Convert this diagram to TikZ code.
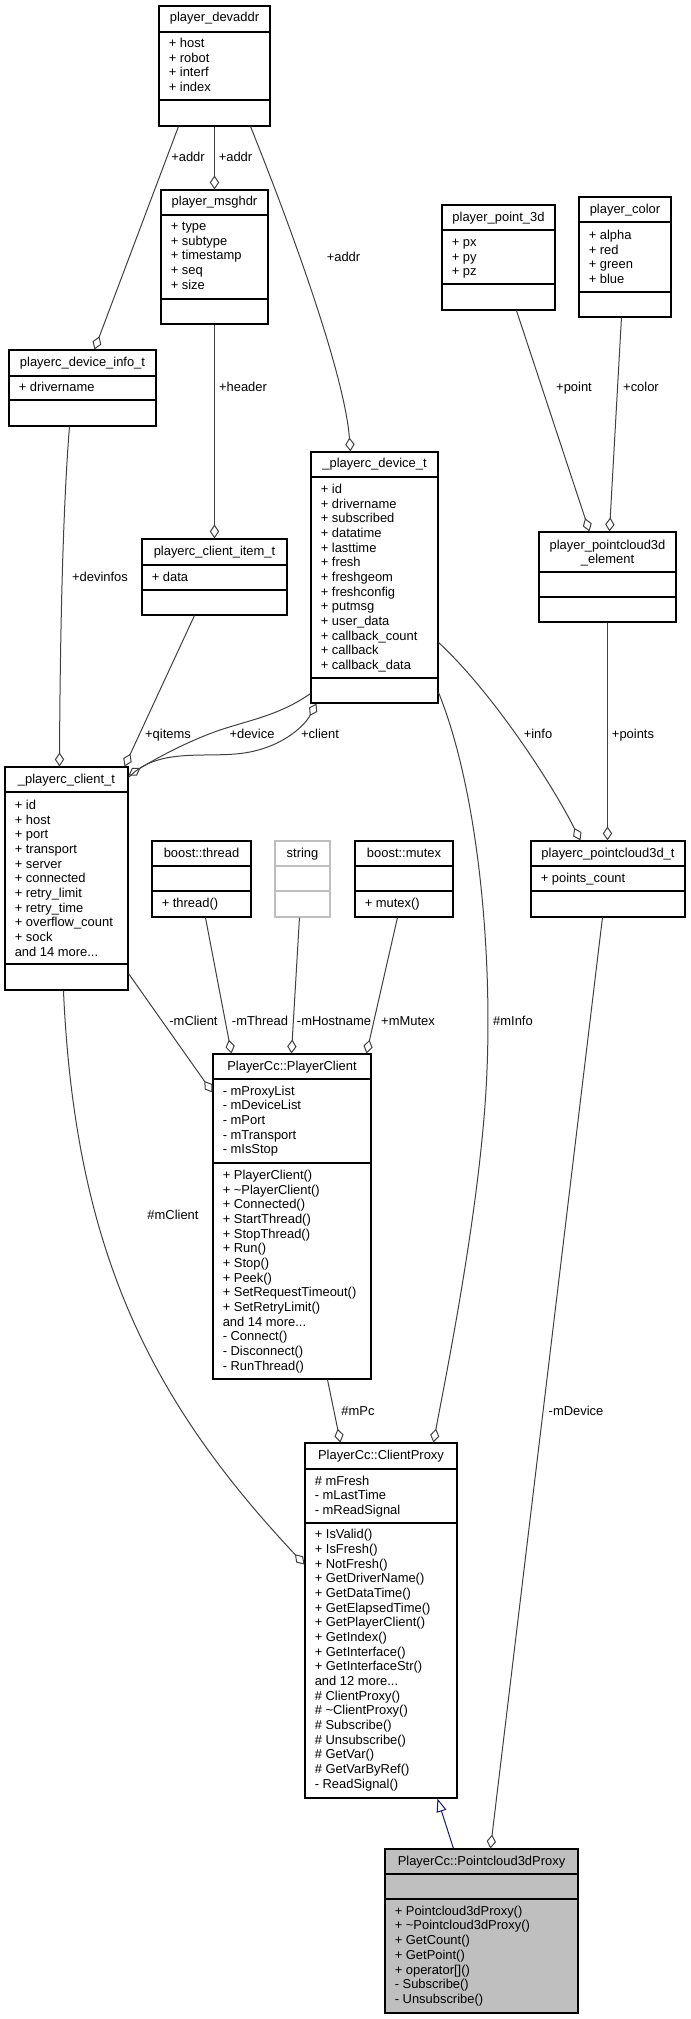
\documentclass[tikz,border=0pt]{standalone}
\usepackage{fontspec}
\setmainfont{Liberation Sans}
\usetikzlibrary{arrows.meta, calc, fit}
\definecolor{edgegray}{HTML}{404040}
\definecolor{inhblue}{HTML}{191970}
\definecolor{undoc}{HTML}{BFBFBF}

\begin{document}
\begin{tikzpicture}[x=0.75pt, y=-0.75pt,
  font=\fontsize{9.7}{11}\selectfont,
  cls/.style={draw=black, line width=0.8pt, inner sep=0pt},
  title/.style={anchor=base, inner sep=0pt},
  mem/.style={anchor=base west, inner sep=0pt},
  lbl/.style={anchor=base, inner sep=0pt},
  agg/.style={edgegray, line width=0.75pt, -{Diamond[open, length=10.5pt, width=7pt]}},
  isa/.style={inhblue, line width=0.75pt, -{Triangle[open, length=10pt, width=7.5pt]}}]

\useasboundingbox (0,0) rectangle (691,2019);

% player_devaddr
\node[cls, fit={(159,6) (270,126)}] (devaddr) {};
\draw[line width=0.8pt] (159,32) -- (270,32) (159,100) -- (270,100);
\node[title] (devaddr-t) at (214.5,22) {player\_devaddr};
\foreach \m [count=\i from 0] in {host, robot, interf, index}
  \node[mem] (devaddr-a\i) at (168.5,{47.5+14.67*\i}) {+ \m};

% player_msghdr
\node[cls, fit={(161,190) (268,324)}] (msghdr) {};
\draw[line width=0.8pt] (161,215) -- (268,215) (161,299) -- (268,299);
\node[title] (msghdr-t) at (214.5,206) {player\_msghdr};
\foreach \m [count=\i from 0] in {type, subtype, timestamp, seq, size}
  \node[mem] (msghdr-a\i) at (170.5,{230.6+14.67*\i}) {+ \m};

% playerc_device_info_t
\node[cls, fit={(9,350) (156,426)}] (info) {};
\draw[line width=0.8pt] (9,376) -- (156,376) (9,400) -- (156,400);
\node[title] (info-t) at (82.5,366) {playerc\_device\_info\_t};
\node[mem] (info-a0) at (18.5,391.6) {+ drivername};

% player_point_3d
\node[cls, fit={(442,205) (555,310)}] (p3d) {};
\draw[line width=0.8pt] (442,230) -- (555,230) (442,284) -- (555,284);
\node[title] (p3d-t) at (498.5,221.5) {player\_point\_3d};
\foreach \m [count=\i from 0] in {px, py, pz}
  \node[mem] (p3d-a\i) at (451.5,{246.6+14.67*\i}) {+ \m};

% player_color
\node[cls, fit={(579,197) (671,317)}] (color) {};
\draw[line width=0.8pt] (579,222) -- (671,222) (579,292) -- (671,292);
\node[title] (color-t) at (625,213.5) {player\_color};
\foreach \m [count=\i from 0] in {alpha, red, green, blue}
  \node[mem] (color-a\i) at (588.5,{239.6+14.67*\i}) {+ \m};

% playerc_client_item_t
\node[cls, fit={(142,539) (287,615)}] (item) {};
\draw[line width=0.8pt] (142,565) -- (287,565) (142,590) -- (287,590);
\node[title] (item-t) at (214.5,555.5) {playerc\_client\_item\_t};
\node[mem] (item-a0) at (151.5,581.5) {+ data};

% _playerc_device_t
\node[cls, fit={(311,452) (438,703)}] (devt) {};
\draw[line width=0.8pt] (311,477) -- (438,477) (311,678) -- (438,678);
\node[title] (devt-t) at (374.5,467.6) {\_playerc\_device\_t};
\foreach \m [count=\i from 0] in {id, drivername, subscribed, datatime, lasttime,
    fresh, freshgeom, freshconfig, putmsg, user\_data, callback\_count, callback,
    callback\_data}
  \node[mem] (devt-a\i) at (320.5,{493.6+14.67*\i}) {+ \m};

% player_pointcloud3d_element
\node[cls, fit={(539,532) (676,622)}] (element) {};
\draw[line width=0.8pt] (539,572) -- (676,572) (539,597) -- (676,597);
\node[title] (element-t1) at (607.5,549) {player\_pointcloud3d};
\node[title] (element-t2) at (607.5,563.5) {\_element};

% _playerc_client_t
\node[cls, fit={(5,767) (128,990)}] (clientt) {};
\draw[line width=0.8pt] (5,792) -- (128,792) (5,964) -- (128,964);
\node[title] (clientt-t) at (66.5,783.5) {\_playerc\_client\_t};
\foreach \m [count=\i from 0] in {+ id, + host, + port, + transport, + server,
    + connected, + retry\_limit, + retry\_time, + overflow\_count, + sock,
    and 14 more.{}..}
  \node[mem] (clientt-a\i) at (14.5,{809.5+14.67*\i}) {\m};

% boost::thread
\node[cls, fit={(152,841) (251,917)}] (thread) {};
\draw[line width=0.8pt] (152,866) -- (251,866) (152,891) -- (251,891);
\node[title] (thread-t) at (201.5,857.5) {boost::thread};
\node[mem] (thread-m0) at (161.5,907.6) {+ thread()};

% string
\node[cls, draw=undoc, fit={(275,841) (330,917)}] (string) {};
\draw[undoc, line width=0.8pt] (275,866) -- (330,866) (275,891) -- (330,891);
\node[title] (string-t) at (302.5,857.5) {string};

% boost::mutex
\node[cls, fit={(355,841) (453,917)}] (mutex) {};
\draw[line width=0.8pt] (355,866) -- (453,866) (355,891) -- (453,891);
\node[title] (mutex-t) at (404,857.5) {boost::mutex};
\node[mem] (mutex-m0) at (364.5,907.6) {+ mutex()};

% playerc_pointcloud3d_t
\node[cls, fit={(531,841) (685,917)}] (pc3dt) {};
\draw[line width=0.8pt] (531,866) -- (685,866) (531,891) -- (685,891);
\node[title] (pc3dt-t) at (608,857.5) {playerc\_pointcloud3d\_t};
\node[mem] (pc3dt-a0) at (540.5,882.6) {+ points\_count};

% PlayerCc::PlayerClient
\node[cls, fit={(213,1054) (371,1379)}] (pclient) {};
\draw[line width=0.8pt] (213,1079) -- (371,1079) (213,1163) -- (371,1163);
\node[title] (pclient-t) at (292,1070.5) {PlayerCc::PlayerClient};
\foreach \m [count=\i from 0] in {mProxyList, mDeviceList, mPort, mTransport, mIsStop}
  \node[mem] (pclient-a\i) at (222.5,{1095.3+14.67*\i}) {- \m};
\foreach \m [count=\i from 0] in {+ PlayerClient(), + \textasciitilde{}PlayerClient(),
    + Connected(), + StartThread(), + StopThread(), + Run(), + Stop(), + Peek(),
    + SetRequestTimeout(), + SetRetryLimit(), and 14 more.{}.., - Connect(),
    - Disconnect(), - RunThread()}
  \node[mem] (pclient-m\i) at (222.5,{1179.6+14.67*\i}) {\m};

% PlayerCc::ClientProxy
\node[cls, fit={(305,1443) (457,1798)}] (proxy) {};
\draw[line width=0.8pt] (305,1469) -- (457,1469) (305,1523) -- (457,1523);
\node[title] (proxy-t) at (381,1459.6) {PlayerCc::ClientProxy};
\foreach \m [count=\i from 0] in {\# mFresh, - mLastTime, - mReadSignal}
  \node[mem] (proxy-a\i) at (314.5,{1485.3+14.67*\i}) {\m};
\foreach \m [count=\i from 0] in {+ IsValid(), + IsFresh(), + NotFresh(),
    + GetDriverName(), + GetDataTime(), + GetElapsedTime(), + GetPlayerClient(),
    + GetIndex(), + GetInterface(), + GetInterfaceStr(), and 12 more.{}..,
    \# ClientProxy(), \# \textasciitilde{}ClientProxy(), \# Subscribe(),
    \# Unsubscribe(), \# GetVar(), \# GetVarByRef(), - ReadSignal()}
  \node[mem] (proxy-m\i) at (314.5,{1538.9+14.67*\i}) {\m};

% PlayerCc::Pointcloud3dProxy
\node[cls, fill=undoc, fit={(385,1849) (578,2013)}] (pc3dp) {};
\draw[line width=0.8pt] (385,1874) -- (578,1874) (385,1899) -- (578,1899);
\node[title] (pc3dp-t) at (481.5,1865.3) {PlayerCc::Pointcloud3dProxy};
\foreach \m [count=\i from 0] in {+ Pointcloud3dProxy(), + \textasciitilde{}Pointcloud3dProxy(),
    + GetCount(), + GetPoint(), + operator[](), - Subscribe(), - Unsubscribe()}
  \node[mem] (pc3dp-m\i) at (394.5,{1915.3+14.67*\i}) {\m};

% members
\draw[agg] ($(devaddr.south west)+(20,0)$) -- ($(info.north west)+(86,0)$);
\draw[agg] (devaddr.south) -- (msghdr.north);
\draw[agg] ($(devaddr.south east)+(-20,0)$) .. controls (300,250) and (345,380) .. ($(devt.north west)+(40,0)$);
\draw[agg] (msghdr.south) -- (item.north);
\draw[agg] ($(p3d.south west)+(75,0)$) -- ($(element.north west)+(51,0)$);
\draw[agg] ($(color.south west)+(43,0)$) -- ($(element.north west)+(71,0)$);
\draw[agg] ($(info.south west)+(61,0)$) .. controls (62,520) and (60,660) .. ($(clientt.north west)+(55,0)$);
\draw[agg] ($(item.south west)+(53,0)$) -- ($(clientt.north east)+(-4,0)$);
\draw[agg] ($(devt.south west)+(0,-10)$) .. controls (280,715) and (250,720) .. (220,730)
  .. controls (185,742) and (150,762) .. ($(clientt.north east)+(0,9)$);
\draw[agg] ($(clientt.north east)+(0,11)$) .. controls (160,745) and (210,760) .. (250,752)
  .. controls (285,745) and (305,725) .. ($(devt.south west)+(6,0)$);
\draw[agg] ($(devt.north east)+(0,191)$) .. controls (490,690) and (550,780) .. ($(pc3dt.north west)+(50,0)$);
\draw[agg] (element.south) -- (element.south |- pc3dt.north);
\draw[agg] ($(devt.south east)+(0,-11)$) .. controls (478,790) and (492,950) .. (487,1070)
  .. controls (482,1200) and (445,1380) .. ($(proxy.north west)+(129,0)$);
\draw[agg] ($(clientt.south east)+(0,-17)$) -- ($(pclient.north west)+(0,39)$);
\draw[agg] ($(thread.south west)+(54,0)$) -- ($(pclient.north west)+(19,0)$);
\draw[agg] ($(string.south west)+(25,0)$) -- ($(pclient.north west)+(79,0)$);
\draw[agg] ($(mutex.south west)+(43,0)$) -- ($(pclient.north west)+(154,0)$);
\draw[agg] ($(pc3dt.south west)+(72,0)$) -- ($(pc3dp.north west)+(106,0)$);
\draw[agg] ($(pclient.south west)+(115,0)$) -- ($(proxy.north west)+(36,0)$);
\draw[agg] ($(clientt.south west)+(59,0)$) .. controls (75,1250) and (150,1400) .. ($(proxy.north west)+(0,122)$);

% inheritance
\draw[isa] ($(pc3dp.north west)+(69,0)$) -- ($(proxy.south west)+(133,0)$);

% labels
\node[lbl] (l-addr1) at (188,161.5) {+addr};
\node[lbl] (l-addr2) at (235.5,161.5) {+addr};
\node[lbl] (l-addr3) at (343.5,261.5) {+addr};
\node[lbl] (l-header) at (243,391.5) {+header};
\node[lbl] (l-point) at (574,391.5) {+point};
\node[lbl] (l-color) at (641,391.5) {+color};
\node[lbl] (l-devinfos) at (100,581.5) {+devinfos};
\node[lbl] (l-qitems) at (168,738.5) {+qitems};
\node[lbl] (l-device) at (252,738.5) {+device};
\node[lbl] (l-client) at (320,738.5) {+client};
\node[lbl] (l-info) at (538,738.5) {+info};
\node[lbl] (l-points) at (633,738.5) {+points};
\node[lbl] (l-mclient) at (193.5,1025.5) {-mClient};
\node[lbl] (l-mthread) at (260,1025.5) {-mThread};
\node[lbl] (l-mhostname) at (334,1025.5) {-mHostname};
\node[lbl] (l-mmutex) at (408,1025.5) {+mMutex};
\node[lbl] (l-minfo) at (513,1025.5) {\#mInfo};
\node[lbl] (l-mclient2) at (173,1219.5) {\#mClient};
\node[lbl] (l-mpc) at (358,1415.5) {\#mPc};
\node[lbl] (l-mdevice) at (576,1415.5) {-mDevice};

\end{tikzpicture}
\end{document}
